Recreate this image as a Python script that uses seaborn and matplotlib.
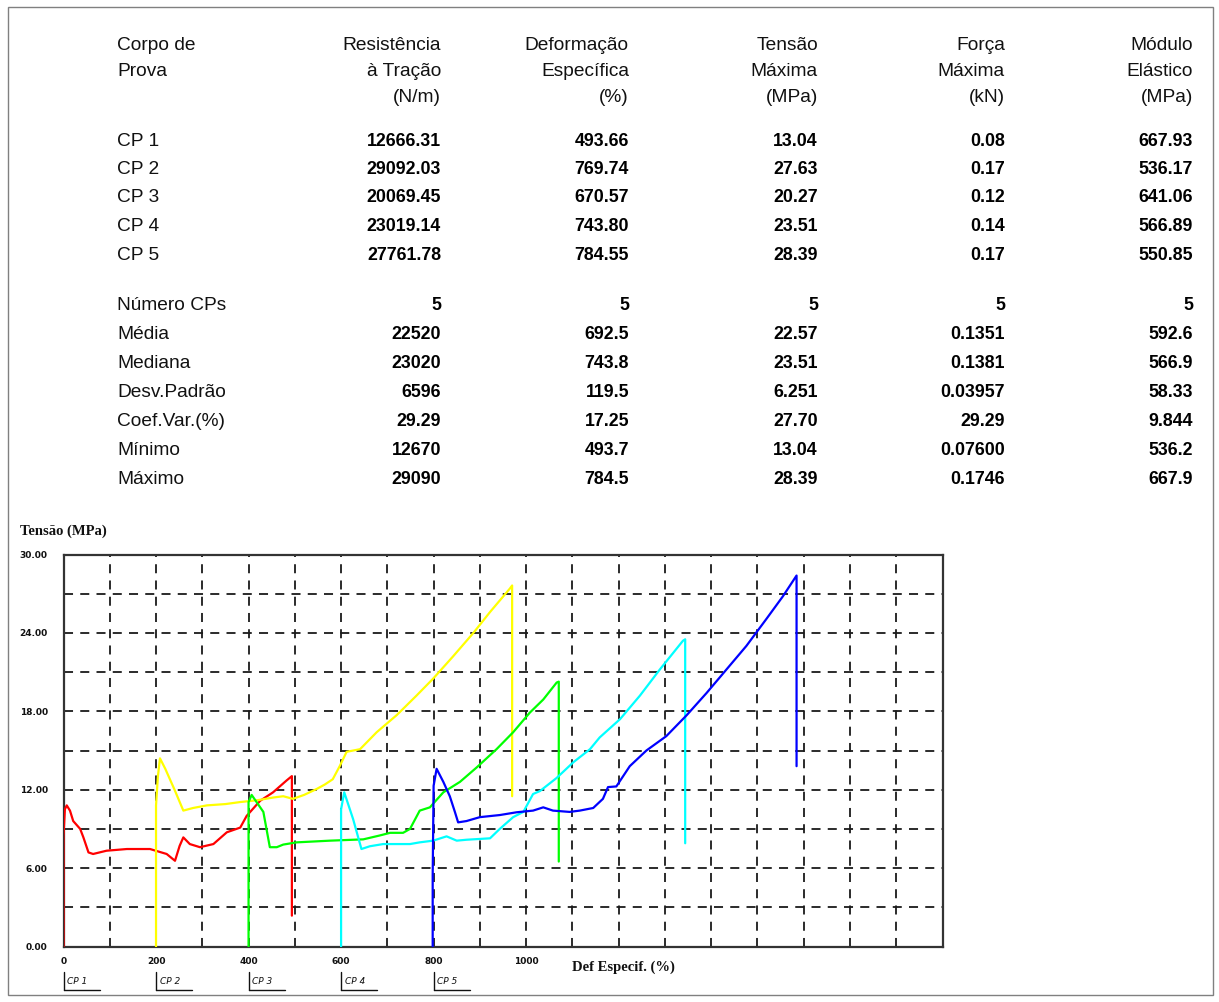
import numpy as np
import pandas as pd
import matplotlib
matplotlib.use("Agg")
import matplotlib.pyplot as plt
from matplotlib.patches import Rectangle
import seaborn as sns

# ---- table data -----------------------------------------------------------
col_headers = [
    ["Corpo de", "Prova"],
    ["Resistência", "à Tração", "(N/m)"],
    ["Deformação", "Específica", "(%)"],
    ["Tensão", "Máxima", "(MPa)"],
    ["Força", "Máxima", "(kN)"],
    ["Módulo", "Elástico", "(MPa)"],
]
cp_names = ["CP 1", "CP 2", "CP 3", "CP 4", "CP 5"]
resistencia = ["12666.31", "29092.03", "20069.45", "23019.14", "27761.78"]
deformacao = ["493.66", "769.74", "670.57", "743.80", "784.55"]
tensao_max = ["13.04", "27.63", "20.27", "23.51", "28.39"]
forca_max = ["0.08", "0.17", "0.12", "0.14", "0.17"]
modulo = ["667.93", "536.17", "641.06", "566.89", "550.85"]

stat_names = ["Número CPs", "Média", "Mediana", "Desv.Padrão",
              "Coef.Var.(%)", "Mínimo", "Máximo"]
stat_resistencia = ["5", "22520", "23020", "6596", "29.29", "12670", "29090"]
stat_deformacao = ["5", "692.5", "743.8", "119.5", "17.25", "493.7", "784.5"]
stat_tensao = ["5", "22.57", "23.51", "6.251", "27.70", "13.04", "28.39"]
stat_forca = ["5", "0.1351", "0.1381", "0.03957", "29.29", "0.07600", "0.1746"]
stat_modulo = ["5", "592.6", "566.9", "58.33", "9.844", "536.2", "667.9"]

# ---- stress-strain curves (strain relative to each specimen's start) -------
cp_offsets = [0, 200, 400, 600, 800]
cp_colors = ["#ff0000", "#ffff00", "#00ff00", "#00ffff", "#0000ff"]

cp1_strain = [0, 0, 3, 7, 14, 21, 36, 43, 54, 64, 93, 137, 187, 223, 241, 251,
              259, 273, 295, 324, 353, 382, 396, 425, 453, 482, 493.66, 493.66]
cp1_stress = [0, 8.5, 10.5, 10.8, 10.4, 9.6, 9.0, 8.35, 7.2, 7.08, 7.33, 7.46,
              7.46, 7.08, 6.56, 7.7, 8.35, 7.84, 7.6, 7.84, 8.74, 9.1, 10.0,
              11.15, 11.8, 12.7, 13.04, 2.36]

cp2_strain = [0, 0, 4, 8.5, 20, 40, 59, 80, 110, 150, 181, 220, 253, 275, 296,
              320, 347, 365, 382, 397, 412, 441, 477, 520, 563, 599, 642, 686,
              722, 765, 769.74, 769.74]
cp2_stress = [0, 10.8, 13.0, 14.4, 13.6, 12.0, 10.4, 10.6, 10.8, 10.9, 11.05,
              11.2, 11.4, 11.5, 11.3, 11.6, 12.05, 12.4, 12.8, 13.8, 14.9, 15.1,
              16.4, 17.7, 19.2, 20.5, 22.2, 24.0, 25.6, 27.4, 27.63, 11.5]

cp3_strain = [0, 0, 6.7, 32, 46, 61, 75, 104, 176, 248, 284, 306, 334, 349,
              370, 392, 421, 457, 493, 536, 572, 608, 637, 666, 670.57, 670.57]
cp3_stress = [0, 11.05, 11.6, 10.3, 7.6, 7.6, 7.8, 7.97, 8.1, 8.2, 8.5, 8.7,
              8.7, 9.0, 10.4, 10.65, 11.8, 12.6, 13.7, 15.1, 16.4, 17.9, 18.9,
              20.2, 20.27, 6.5]

cp4_strain = [0, 0, 6.8, 26, 44, 62, 91, 120, 149, 170, 199, 228, 250, 271,
              322, 343, 372, 394, 415, 430, 466, 502, 538, 559, 603, 646, 689,
              739, 743.80, 743.80]
cp4_stress = [0, 10.5, 11.8, 9.75, 7.46, 7.67, 7.84, 7.84, 7.84, 7.97, 8.1,
              8.43, 8.1, 8.17, 8.28, 9.0, 9.9, 10.3, 11.67, 11.9, 12.9, 14.1,
              15.1, 16.0, 17.4, 19.2, 21.2, 23.4, 23.51, 7.9]

cp5_strain = [-2, -2, 0, 6.5, 21, 35, 46, 53, 71, 100, 143, 179, 215, 237,
              258, 294, 316, 345, 366, 377, 395, 424, 460, 503, 547, 590, 633,
              676, 720, 755, 784.55, 784.55]
cp5_stress = [0, 5.4, 12.3, 13.6, 12.6, 11.5, 10.3, 9.5, 9.6, 9.9, 10.06,
              10.27, 10.4, 10.65, 10.4, 10.3, 10.4, 10.6, 11.3, 12.2, 12.25,
              13.8, 15.0, 16.1, 17.7, 19.4, 21.2, 23.0, 25.1, 26.8, 28.39, 13.8]

strains = [cp1_strain, cp2_strain, cp3_strain, cp4_strain, cp5_strain]
stresses = [cp1_stress, cp2_stress, cp3_stress, cp4_stress, cp5_stress]

frames = []
for name, off, s, t in zip(cp_names, cp_offsets, strains, stresses):
    n = len(s)
    frames.append(pd.DataFrame({
        "cp": [name] * n,
        "deform": np.asarray(s, dtype=float) + off,
        "tensao": np.asarray(t, dtype=float),
    }))
curves = pd.concat(frames, ignore_index=True)

# ---- figure ----------------------------------------------------------------
sns.set_style("white")
plt.rcParams["font.family"] = ["Liberation Sans", "DejaVu Sans"]

W, H = 1219, 1003
fig = plt.figure(figsize=(W / 100, H / 100), dpi=100)
fig.patch.set_facecolor("white")


def fx(px):
    return px / W


def fy(py):
    return 1 - py / H


# outer frame
fig.patches.append(Rectangle((fx(8), fy(996)), fx(1213) - fx(8), fy(8) - fy(996),
                             transform=fig.transFigure, fill=False,
                             edgecolor="#808080", linewidth=1.0))

# table header
head_font = dict(fontsize=13.8, color="#111111", family=["Liberation Sans", "DejaVu Sans"])
head_y = [45, 71, 97]
col_right = [None, 441, 629, 818, 1005, 1193]
for i, lines in enumerate(col_headers):
    for j, line in enumerate(lines):
        if i == 0:
            fig.text(fx(117), fy(head_y[j]), line, ha="left", va="center", **head_font)
        else:
            fig.text(fx(col_right[i]), fy(head_y[j]), line, ha="right", va="center", **head_font)

val_font = dict(fontsize=12.8, fontweight="bold", color="#000000",
                family=["Liberation Sans", "DejaVu Sans"])

cp_rows_y = [141, 169.5, 198, 226.5, 255]
cp_cols = [resistencia, deformacao, tensao_max, forca_max, modulo]
for r, y in enumerate(cp_rows_y):
    fig.text(fx(117), fy(y), cp_names[r], ha="left", va="center", **head_font)
    for c, col in enumerate(cp_cols):
        fig.text(fx(col_right[c + 1]), fy(y), col[r], ha="right", va="center", **val_font)

stat_rows_y = [306, 335, 363.5, 392.5, 421.5, 450.5, 480]
stat_cols = [stat_resistencia, stat_deformacao, stat_tensao, stat_forca, stat_modulo]
for r, y in enumerate(stat_rows_y):
    fig.text(fx(117), fy(y), stat_names[r], ha="left", va="center", **head_font)
    for c, col in enumerate(stat_cols):
        fig.text(fx(col_right[c + 1]), fy(y), col[r], ha="right", va="center", **val_font)

# ---- stress-strain plot ----------------------------------------------------
ax_left, ax_right, ax_top, ax_bottom = 63.5, 942.5, 555.5, 947.5
ax = fig.add_axes([fx(ax_left), fy(ax_bottom), fx(ax_right) - fx(ax_left),
                   fy(ax_top) - fy(ax_bottom)])

sns.lineplot(data=curves, x="deform", y="tensao", hue="cp",
             palette=dict(zip(cp_names, cp_colors)), estimator=None,
             sort=False, units="cp", linewidth=1.6, legend=False, ax=ax)
for line in ax.get_lines():
    line.set_zorder(3)

ax.set_xlim(0, 1900)
ax.set_ylim(0, 30)
ax.set_xticks(np.arange(0, 1901, 100))
ax.set_yticks(np.arange(0, 31, 3))
ax.grid(True, color="#1a1a1a", linestyle=(0, (5, 4)), linewidth=1.3)
ax.set_axisbelow(True)
ax.tick_params(length=0, labelbottom=False, labelleft=False)
ax.set_xlabel("")
ax.set_ylabel("")
for side, sp in ax.spines.items():
    sp.set_visible(True)
    sp.set_color("#333333")
    sp.set_linewidth(1.6)
    sp.set_zorder(2.5)

tick_font = dict(fontsize=6.5, fontweight="bold", color="#111111",
                 family=["DejaVu Sans"])
for v in range(0, 31, 6):
    ax.text(-0.018, v / 30, f"{v}.00", transform=ax.transAxes,
            ha="right", va="center", **tick_font)
for v in range(0, 1001, 200):
    ax.text(v, -1.05, f"{v}", ha="center", va="center", **tick_font)

serif_bold = dict(fontweight="bold", color="#111111",
                  family=["Liberation Serif", "DejaVu Serif"])
fig.text(fx(20), fy(531), "Tensão (MPa)", ha="left", va="center", fontsize=10.5, **serif_bold)
fig.text(fx(572), fy(967), "Def Especif. (%)", ha="left", va="center", fontsize=10.5, **serif_bold)

# specimen markers under the x axis
for name, off in zip(cp_names, cp_offsets):
    ax.plot([off, off], [-1.95, -3.3], color="#111111", lw=1.0, clip_on=False)
    ax.plot([off, off + 78], [-3.3, -3.3], color="#111111", lw=1.0, clip_on=False)
    ax.text(off + 8, -2.6, name, ha="left", va="center", fontsize=6.5,
            style="italic", color="#111111", family=["DejaVu Sans"])

fig.savefig("out.png", dpi=100, facecolor="white")
